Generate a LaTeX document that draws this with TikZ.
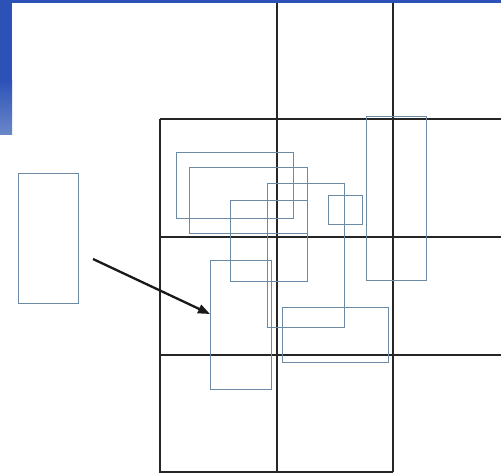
\documentclass[tikz,border=0pt]{standalone}
\usetikzlibrary{arrows.meta}

\definecolor{slideblue}{RGB}{44,82,184}
\definecolor{slidepale}{RGB}{105,135,200}
\definecolor{boxgray}{RGB}{108,138,164}

\begin{document}
\begin{tikzpicture}[
  x=1pt, y=-1pt,
  >={Triangle[length=12pt, width=9pt]},
  grid/.style = {line width=1.2pt, black!85},
  box/.style  = {line width=0.9pt, boxgray},
  mv/.style   = {line width=2.3pt, black!90, ->},
]
\useasboundingbox (0,0) rectangle (501,475);

%% slide decoration at the corner
\fill[slideblue] (0,0) rectangle (501,2.5);
\fill[slideblue] (0,0) rectangle (12,80);
\shade[top color=slideblue, bottom color=slidepale]
  (0,80) rectangle (12,134);

%% the grid cells
\draw[grid] (277,2.5) -- (277,472);
\draw[grid] (393,2.5) -- (393,472);
\draw[grid] (160,119) -- (160,472) -- (393,472);
\foreach \y in {119,237,355}
  { \draw[grid] (160,\y) -- (501,\y); }

%% the bounding boxes
\draw[box] (18,173)  rectangle (78,303);
\draw[box] (176,152) rectangle (293,218);
\draw[box] (189,167) rectangle (307,233);
\draw[box] (267,183) rectangle (344,327);
\draw[box] (230,200) rectangle (307,281);
\draw[box] (328,195) rectangle (362,224);
\draw[box] (366,116) rectangle (426,280);
\draw[box] (210,260) rectangle (271,389);
\draw[box] (282,307) rectangle (388,362);

%% moving the box in
\coordinate (from) at (93,259);
\coordinate (into) at (210,314);
\draw[mv] (from) -- (into);

\end{tikzpicture}
\end{document}
